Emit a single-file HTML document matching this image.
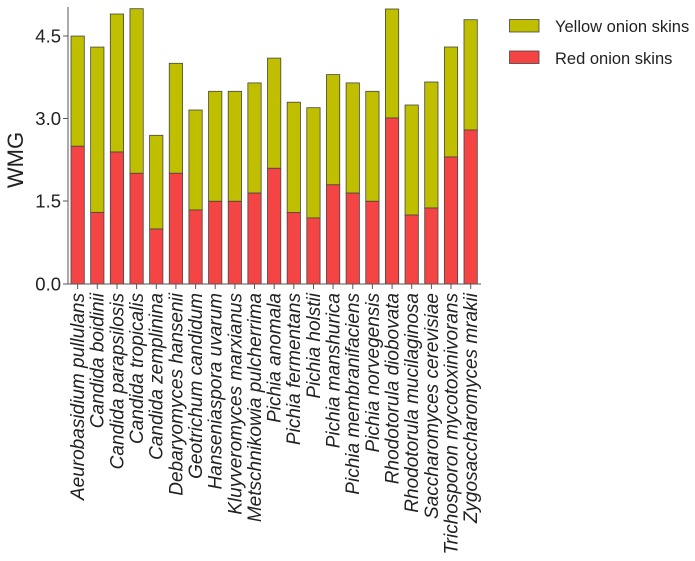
<!DOCTYPE html>
<html><head><meta charset="utf-8"><style>
html,body{margin:0;padding:0;background:#fff;}
svg{display:block;}
text{font-family:"Liberation Sans",sans-serif;fill:#222;}
.l{font-style:italic;font-size:19px;}
</style></head><body>
<svg width="695" height="561" viewBox="0 0 695 561" xmlns="http://www.w3.org/2000/svg">
<g stroke="#444" stroke-width="0.8">
<rect x="71" y="36.05" width="13.3" height="110.2" fill="#bfbf00"/><rect x="71" y="146.25" width="13.3" height="137.75" fill="#f44444"/>
<rect x="90.65" y="47.07" width="13.3" height="165.3" fill="#bfbf00"/><rect x="90.65" y="212.37" width="13.3" height="71.63" fill="#f44444"/>
<rect x="110.3" y="14" width="13.3" height="138" fill="#bfbf00"/><rect x="110.3" y="152" width="13.3" height="132" fill="#f44444"/>
<rect x="129.95" y="8.7" width="13.3" height="164.6" fill="#bfbf00"/><rect x="129.95" y="173.3" width="13.3" height="110.7" fill="#f44444"/>
<rect x="149.6" y="135.3" width="13.3" height="93.7" fill="#bfbf00"/><rect x="149.6" y="229" width="13.3" height="55" fill="#f44444"/>
<rect x="169.25" y="63.3" width="13.3" height="110" fill="#bfbf00"/><rect x="169.25" y="173.3" width="13.3" height="110.7" fill="#f44444"/>
<rect x="188.9" y="110" width="13.3" height="100" fill="#bfbf00"/><rect x="188.9" y="210" width="13.3" height="74" fill="#f44444"/>
<rect x="208.55" y="91.3" width="13.3" height="110" fill="#bfbf00"/><rect x="208.55" y="201.3" width="13.3" height="82.7" fill="#f44444"/>
<rect x="228.2" y="91.3" width="13.3" height="110" fill="#bfbf00"/><rect x="228.2" y="201.3" width="13.3" height="82.7" fill="#f44444"/>
<rect x="247.85" y="82.9" width="13.3" height="110.2" fill="#bfbf00"/><rect x="247.85" y="193.1" width="13.3" height="90.9" fill="#f44444"/>
<rect x="267.5" y="58.1" width="13.3" height="110.2" fill="#bfbf00"/><rect x="267.5" y="168.3" width="13.3" height="115.7" fill="#f44444"/>
<rect x="287.15" y="102.2" width="13.3" height="110.2" fill="#bfbf00"/><rect x="287.15" y="212.4" width="13.3" height="71.6" fill="#f44444"/>
<rect x="306.8" y="107.7" width="13.3" height="110.2" fill="#bfbf00"/><rect x="306.8" y="217.9" width="13.3" height="66.1" fill="#f44444"/>
<rect x="326.45" y="74.6" width="13.3" height="110.2" fill="#bfbf00"/><rect x="326.45" y="184.8" width="13.3" height="99.2" fill="#f44444"/>
<rect x="346.1" y="82.9" width="13.3" height="110.2" fill="#bfbf00"/><rect x="346.1" y="193.1" width="13.3" height="90.9" fill="#f44444"/>
<rect x="365.75" y="91.3" width="13.3" height="110" fill="#bfbf00"/><rect x="365.75" y="201.3" width="13.3" height="82.7" fill="#f44444"/>
<rect x="385.4" y="9" width="13.3" height="109" fill="#bfbf00"/><rect x="385.4" y="118" width="13.3" height="166" fill="#f44444"/>
<rect x="405.05" y="105" width="13.3" height="110" fill="#bfbf00"/><rect x="405.05" y="215" width="13.3" height="69" fill="#f44444"/>
<rect x="424.7" y="82" width="13.3" height="126" fill="#bfbf00"/><rect x="424.7" y="208" width="13.3" height="76" fill="#f44444"/>
<rect x="444.35" y="47" width="13.3" height="110" fill="#bfbf00"/><rect x="444.35" y="157" width="13.3" height="127" fill="#f44444"/>
<rect x="464" y="19.7" width="13.3" height="110.3" fill="#bfbf00"/><rect x="464" y="130" width="13.3" height="154" fill="#f44444"/>
</g>
<g stroke="#555" stroke-width="1" fill="none">
<line x1="68" y1="7" x2="68" y2="284.5"/>
<line x1="68" y1="284" x2="481" y2="284"/>
<line x1="63" y1="36" x2="68" y2="36"/><line x1="63" y1="118.5" x2="68" y2="118.5"/><line x1="63" y1="201" x2="68" y2="201"/><line x1="63" y1="284" x2="68" y2="284"/>
<path d="M77.6 284v5M97.3 284v5M117 284v5M136.6 284v5M156.3 284v5M175.9 284v5M195.6 284v5M215.2 284v5M234.9 284v5M254.5 284v5M274.2 284v5M293.8 284v5M313.5 284v5M333.1 284v5M352.8 284v5M372.4 284v5M392.1 284v5M411.7 284v5M431.4 284v5M451 284v5M470.7 284v5"/>
</g>
<g font-size="18.5" text-anchor="end">
<text x="61" y="42.5">4.5</text><text x="61" y="125">3.0</text><text x="61" y="207.5">1.5</text><text x="61" y="290.5">0.0</text>
</g>
<text transform="translate(23,160) rotate(-90)" text-anchor="middle" font-size="22">WMG</text>
<g class="l" text-anchor="end">
<text transform="translate(84,293) rotate(-90)">Aeurobasidium pullulans</text>
<text transform="translate(103.7,293) rotate(-90)">Candida boidinii</text>
<text transform="translate(123.4,293) rotate(-90)">Candida parapsilosis</text>
<text transform="translate(143,293) rotate(-90)">Candida tropicalis</text>
<text transform="translate(162.7,293) rotate(-90)">Candida zemplinina</text>
<text transform="translate(182.3,293) rotate(-90)">Debaryomyces hansenii</text>
<text transform="translate(202,293) rotate(-90)">Geotrichum candidum</text>
<text transform="translate(221.6,293) rotate(-90)">Hanseniaspora uvarum</text>
<text transform="translate(241.3,293) rotate(-90)">Kluyveromyces marxianus</text>
<text transform="translate(260.9,293) rotate(-90)">Metschnikowia pulcherrima</text>
<text transform="translate(280.6,293) rotate(-90)">Pichia anomala</text>
<text transform="translate(300.2,293) rotate(-90)">Pichia fermentans</text>
<text transform="translate(319.9,293) rotate(-90)">Pichia holstii</text>
<text transform="translate(339.5,293) rotate(-90)">Pichia manshurica</text>
<text transform="translate(359.2,293) rotate(-90)">Pichia membranifaciens</text>
<text transform="translate(378.8,293) rotate(-90)">Pichia norvegensis</text>
<text transform="translate(398.5,293) rotate(-90)">Rhodotorula diobovata</text>
<text transform="translate(418.1,293) rotate(-90)">Rhodotorula mucilaginosa</text>
<text transform="translate(437.8,293) rotate(-90)">Saccharomyces cerevisiae</text>
<text transform="translate(457.4,293) rotate(-90)">Trichosporon mycotoxinivorans</text>
<text transform="translate(477.1,293) rotate(-90)">Zygosaccharomyces mrakii</text>
</g>
<rect x="509.5" y="19.5" width="29.5" height="12.5" fill="#bfbf00" stroke="#444" stroke-width="0.8"/>
<rect x="509.5" y="51" width="29.5" height="12.5" fill="#f44444" stroke="#444" stroke-width="0.8"/>
<text x="555" y="32" font-size="16.5">Yellow onion skins</text>
<text x="555" y="64" font-size="16.5">Red onion skins</text>
</svg>
</body></html>
